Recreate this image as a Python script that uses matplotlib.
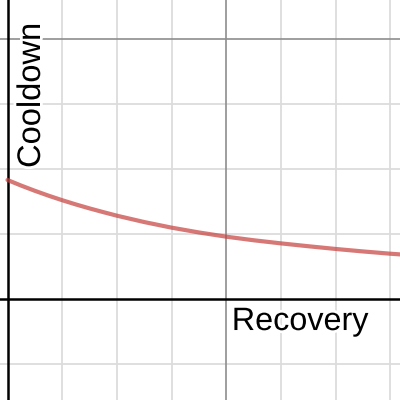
import matplotlib
matplotlib.use("Agg")
import matplotlib.pyplot as plt
import matplotlib.patheffects as pe
import numpy as np

# Data (x in minor-grid units, y in minor-grid units)
recovery = [0.0, 0.25, 0.5, 0.75, 1.0, 1.25, 1.5, 1.75, 2.0, 2.5, 3.0, 3.5, 4.0,
            4.5, 5.0, 5.5, 6.0, 6.5, 7.0, 7.2]
cooldown = [1.823, 1.737, 1.657, 1.582, 1.512, 1.447, 1.386, 1.329, 1.274, 1.176,
            1.090, 1.016, 0.951, 0.896, 0.848, 0.804, 0.762, 0.724, 0.689, 0.677]
x_label = "Recovery"
y_label = "Cooldown"

fig = plt.figure(figsize=(4, 4), dpi=100)
ax = fig.add_axes([0, 0, 1, 1])
xmin, xmax = -7.5 / 54.7, (400 - 7.5) / 54.7
ymin, ymax = (298.5 - 400) / 65.0, 298.5 / 65.0
ax.set_xlim(xmin, xmax)
ax.set_ylim(ymin, ymax)
ax.axis("off")

# minor grid
for gx in np.arange(1, 8):
    if gx % 4 != 0:
        ax.axvline(gx, color="#dcdcdc", lw=1.3, zorder=1)
for gy in np.arange(-1, 5):
    if gy % 4 != 0:
        ax.axhline(gy, color="#dcdcdc", lw=1.3, zorder=1)
# major grid
ax.axvline(4, color="#8e8e8e", lw=1.2, zorder=2)
ax.axhline(4, color="#8e8e8e", lw=1.2, zorder=2)
# axes
ax.axvline(0, color="black", lw=1.8, zorder=3)
ax.axhline(0, color="black", lw=1.8, zorder=3)

ax.plot(recovery, cooldown, color="#c74440", alpha=0.72, lw=3.0,
        solid_capstyle="round", solid_joinstyle="round", zorder=4)

stroke = [pe.withStroke(linewidth=4, foreground="white")]
ax.text(4.10, -0.485, x_label, fontsize=23.3, family="Liberation Sans",
        ha="left", va="baseline", zorder=5, path_effects=stroke)
ax.text(0.594, 2.008, y_label, fontsize=23.5, family="Liberation Sans",
        rotation=90, rotation_mode="anchor", ha="left", va="baseline",
        zorder=5, path_effects=stroke)

fig.savefig("out.png", dpi=100)
